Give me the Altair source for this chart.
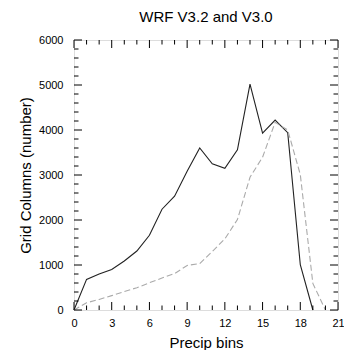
import altair as alt
import pandas as pd

bins_v32 = list(range(0, 20))
v32 = [0, 680, 800, 900, 1090, 1310, 1660, 2240, 2530, 3085, 3600, 3250, 3150,
       3560, 5020, 3930, 4220, 3940, 1010, 0]
bins_v30 = list(range(0, 21))
v30 = [0, 160, 235, 320, 410, 495, 605, 710, 810, 990, 1030, 1300, 1580, 2010,
       2950, 3395, 4170, 4000, 3010, 590, 0]

x_major = [0, 3, 6, 9, 12, 15, 18, 21]
x_minor = [1, 2, 4, 5, 7, 8, 10, 11, 13, 14, 16, 17, 19, 20]
y_major = [0, 1000, 2000, 3000, 4000, 5000, 6000]
y_minor = [200, 400, 600, 800, 1200, 1400, 1600, 1800, 2200, 2400, 2600, 2800,
           3200, 3400, 3600, 3800, 4200, 4400, 4600, 4800, 5200, 5400, 5600, 5800]

W, H = 264, 270
MAJ, MIN = 8, 4.5
FONT = "Liberation Sans"

xs = alt.Scale(domain=[0, 21], nice=False, zero=False)
ys = alt.Scale(domain=[0, 6000], nice=False, zero=False)

df32 = pd.DataFrame({"bin": bins_v32, "count": v32})
df30 = pd.DataFrame({"bin": bins_v30, "count": v30})

x_axis = alt.Axis(values=x_major, ticks=False, domain=False, grid=False,
                  labelFontSize=11, labelFont=FONT, labelColor="black",
                  labelPadding=7, title="Precip bins", titleFontSize=15,
                  titleFont=FONT, titleFontWeight="normal", titleColor="black",
                  titlePadding=7, labelFlush=False, format="d")
y_axis = alt.Axis(values=y_major, ticks=False, domain=False, grid=False,
                  labelFontSize=11, labelFont=FONT, labelColor="black",
                  labelPadding=11, title="Grid Columns (number)", titleFontSize=15,
                  titleFont=FONT, titleFontWeight="normal", titleColor="black",
                  titlePadding=5, labelFlush=False, format="d")

line32 = alt.Chart(df32).mark_line(color="#222222", strokeWidth=1.1).encode(
    x=alt.X("bin:Q", scale=xs, axis=x_axis),
    y=alt.Y("count:Q", scale=ys, axis=y_axis),
)
line30 = alt.Chart(df30).mark_line(color="#aaaaaa", strokeWidth=1.1,
                                   strokeDash=[6, 3]).encode(
    x=alt.X("bin:Q", scale=xs, axis=x_axis),
    y=alt.Y("count:Q", scale=ys, axis=y_axis),
)

def xticks(vals, length):
    d = pd.DataFrame({"v": vals})
    bot = alt.Chart(d).mark_rule(color="black", strokeWidth=1).encode(
        x=alt.X("v:Q", scale=xs, axis=x_axis),
        y=alt.value(H), y2=alt.value(H - length))
    top = alt.Chart(d).mark_rule(color="black", strokeWidth=1).encode(
        x=alt.X("v:Q", scale=xs, axis=x_axis),
        y=alt.value(0), y2=alt.value(length))
    return [bot, top]

def yticks(vals, length):
    d = pd.DataFrame({"v": vals})
    left = alt.Chart(d).mark_rule(color="black", strokeWidth=1).encode(
        y=alt.Y("v:Q", scale=ys, axis=y_axis),
        x=alt.value(0), x2=alt.value(length))
    right = alt.Chart(d).mark_rule(color="black", strokeWidth=1).encode(
        y=alt.Y("v:Q", scale=ys, axis=y_axis),
        x=alt.value(W), x2=alt.value(W - length))
    return [left, right]

layers = [line32, line30] + xticks(x_major, MAJ) + xticks(x_minor, MIN) \
    + yticks(y_major, MAJ) + yticks(y_minor, MIN)

chart = alt.layer(*layers).properties(
    width=W, height=H,
    title=alt.TitleParams("WRF V3.2 and V3.0", fontSize=15, font=FONT,
                          fontWeight="normal", color="black", offset=9),
    autosize=alt.AutoSizeParams(type="none"),
    padding={"left": 66, "top": 32, "right": 6, "bottom": 40},
).configure_view(stroke="black", strokeWidth=1.2).configure(background="white")

chart.save("out.html", embed_options={"renderer": "svg", "actions": False})
